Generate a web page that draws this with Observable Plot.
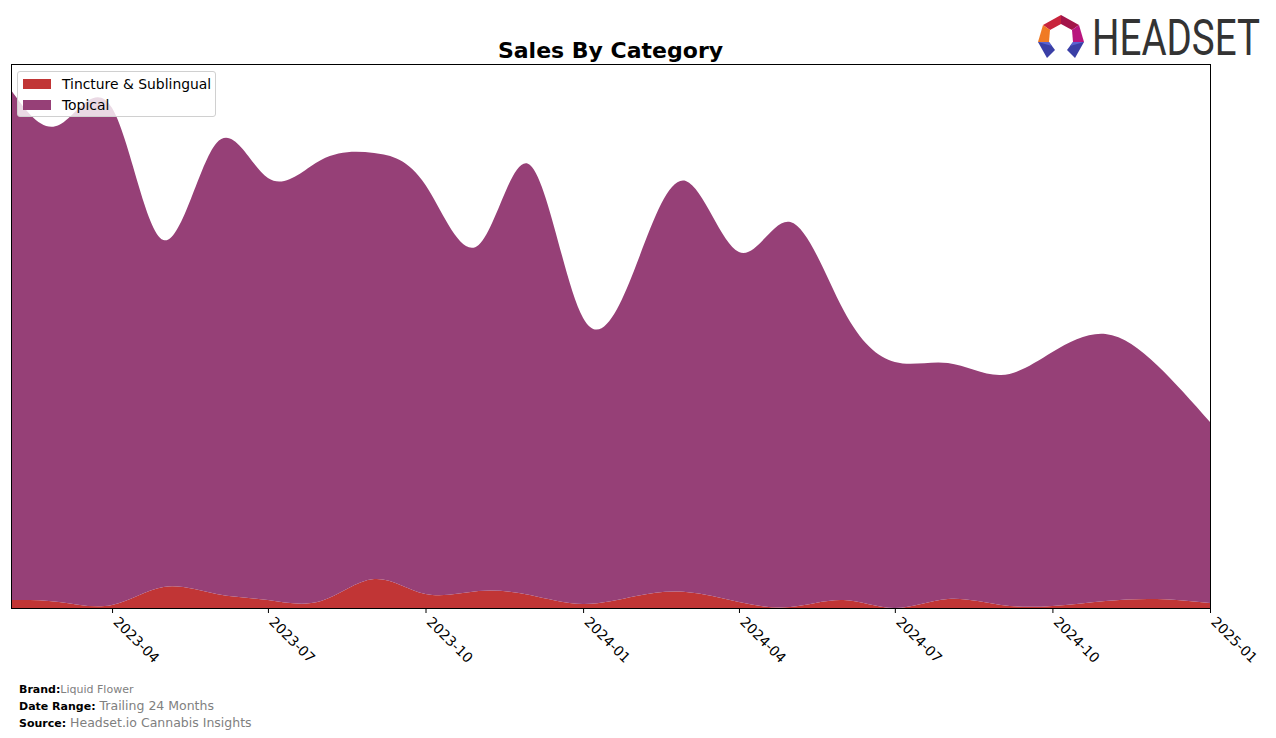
<!DOCTYPE html>
<html>
<head>
<meta charset="utf-8">
<script src="https://cdn.jsdelivr.net/npm/d3@7"></script>
<script src="https://cdn.jsdelivr.net/npm/@observablehq/plot@0.6"></script>
<style>
  html, body { margin: 0; padding: 0; background: #fff; }
  body { width: 1276px; height: 738px; position: relative; overflow: hidden; font-family: "DejaVu Sans", sans-serif; }
  #chart { position: absolute; left: 0; top: 0; }
  #title { position: absolute; left: 11px; width: 1199px; top: 38px; text-align: center; font-weight: bold; font-size: 22px; line-height: 26px; color: #000; }
  #legend { position: absolute; left: 17px; top: 71px; width: 197px; height: 44px; border: 1px solid #d0d0d0; border-radius: 3px; background: rgba(255,255,255,0.8); font-size: 13.9px; color: #000; }
  .li { position: absolute; left: 5px; height: 16px; line-height: 16px; white-space: nowrap; }
  .sw { display: inline-block; width: 28px; height: 10px; vertical-align: middle; margin-right: 11px; position: relative; top: -1px; }
  #footer { position: absolute; left: 19px; top: 682px; font-size: 11px; line-height: 16px; color: #000; }
  #footer b { font-weight: bold; }
  #footer .v { color: #808080; }
  #logo { position: absolute; left: 1030px; top: 0px; overflow: visible; }
</style>
</head>
<body>
<div id="chart"></div>
<div id="title"></div>
<div id="legend"></div>
<div id="footer"></div>
<svg id="logo" width="246" height="90" viewBox="1030 0 246 90">
  <polygon points="1043,25 1061,15 1061,24 1050,30" fill="#c8243c"/>
  <polygon points="1061,15 1079,25 1072,30 1061,24" fill="#a3154a"/>
  <polygon points="1038,42 1043,25 1050,30 1049,42" fill="#f07a24"/>
  <polygon points="1079,25 1084,42 1073,42 1072,30" fill="#b8157e"/>
  <polygon points="1038,42 1049,42 1055,50 1047,58" fill="#3a3fa6"/>
  <polygon points="1073,42 1084,42 1075,58 1067,50" fill="#3a3fa6"/>
  <polygon points="1038,42 1049,42 1052,46" fill="#5a62d0"/>
  <polygon points="1073,42 1084,42 1070,46" fill="#5a62d0"/>
  <g transform="translate(1092,55) scale(1,1.3)">
    <text x="0" y="0" font-family="Roboto, 'DejaVu Sans'" font-size="38.5" fill="#333333" textLength="168" lengthAdjust="spacingAndGlyphs">HEADSET</text>
  </g>
</svg>
<script>
// ---- data ----
const months = ["2023-02","2023-03","2023-04","2023-05","2023-06","2023-07","2023-08","2023-09","2023-10","2023-11","2023-12","2024-01",
                "2024-02","2024-03","2024-04","2024-05","2024-06","2024-07","2024-08","2024-09","2024-10","2024-11","2024-12","2025-01"];
const categories = ["Tincture & Sublingual", "Topical"];
const tincture = [8, 6, 3, 21, 14, 8, 7, 29, 14, 17, 13, 4, 12, 16, 6, 1, 8, 0, 9, 3, 2, 7, 9, 5];
const topical  = [510, 477, 497, 347, 451, 422, 441, 426, 409, 346, 430, 286, 331, 411, 350, 385, 290, 246, 236, 230, 254, 267, 234, 181];
const tickLabels = ["2023-04","2023-07","2023-10","2024-01","2024-04","2024-07","2024-10","2025-01"];
const colors = ["#c13535", "#964077"];
const titleText = "Sales By Category";
const footerRows = [["Brand:", "Liquid Flower"], ["Date Range:", "Trailing 24 Months"], ["Source:", "Headset.io Cannabis Insights"]];

// ---- table ----
const parse = d3.utcParse("%Y-%m");
const table = [];
months.forEach((m, i) => {
  table.push({date: parse(m), category: categories[0], value: tincture[i]});
  table.push({date: parse(m), category: categories[1], value: topical[i]});
});

const chart = Plot.plot({
  width: 1276,
  height: 680,
  marginLeft: 11,
  marginRight: 66,
  marginTop: 64,
  marginBottom: 72,
  style: {fontFamily: "'DejaVu Sans', sans-serif", fontSize: "13.9px", color: "#000", background: "transparent"},
  x: {type: "utc", domain: [parse(months[0]), parse(months[months.length - 1])]},
  y: {domain: [0, 544], axis: null},
  color: {domain: categories, range: colors},
  marks: [
    Plot.areaY(table, {x: "date", y: "value", fill: "category", order: categories, curve: "natural", clip: true}),
    Plot.frame({stroke: "#000", strokeWidth: 1}),
    // tick lines only
    Plot.axisX({
      ticks: tickLabels.map(parse),
      tickSize: 5,
      stroke: "#000",
      fill: "none",
      label: null
    }),
    // tick labels only, nudged like the reference
    Plot.axisX({
      ticks: tickLabels.map(parse),
      tickFormat: d3.utcFormat("%Y-%m"),
      tickSize: 0,
      tickPadding: 11,
      tickRotate: 45,
      fontSize: 13.9,
      fill: "#000",
      dx: 3,
      label: null
    })
  ]
});
document.getElementById("chart").appendChild(chart);

document.getElementById("title").textContent = titleText;

const legend = document.getElementById("legend");
categories.forEach((c, i) => {
  const row = document.createElement("div");
  row.className = "li";
  row.style.top = (4 + i * 21) + "px";
  const sw = document.createElement("span");
  sw.className = "sw";
  sw.style.background = colors[i];
  row.appendChild(sw);
  row.appendChild(document.createTextNode(c));
  legend.appendChild(row);
});

const footer = document.getElementById("footer");
footerRows.forEach(([k, v], i) => {
  const row = document.createElement("div");
  const b = document.createElement("b");
  b.textContent = k;
  const s = document.createElement("span");
  s.className = "v";
  s.textContent = (i === 0 ? "" : " ") + v;
  s.style.fontSize = i === 0 ? "11px" : "12.5px";
  row.appendChild(b);
  row.appendChild(s);
  footer.appendChild(row);
});
</script>
</body>
</html>
